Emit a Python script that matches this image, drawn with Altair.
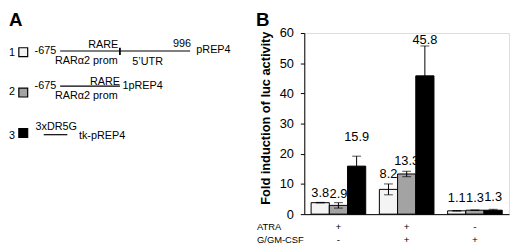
import altair as alt
import pandas as pd

# ---------------- data (panel B) ----------------
groups = ["c1", "c2", "c3"]
constructs = ["1", "2", "3"]
fold = [3.8, 2.9, 15.9, 8.2, 13.3, 45.8, 1.1, 1.3, 1.3]
err = [0.1, 0.9, 3.3, 1.8, 0.9, 9.9, 0.1, 0.05, 0.3]
label_at = [5.8, 5.4, 24.2, 12.0, 16.3, 56.5, 3.9, 3.9, 4.2]
atra = ["+", "+", "-"]
gmcsf = ["-", "+", "+"]
y_ticks = [0, 10, 20, 30, 40, 50, 60]
fills = ["#f4f4f4", "#a3a3a3", "#000000"]

FONT = "Liberation Sans"

rows = []
k = 0
for g in groups:
    for c in constructs:
        rows.append({"group": g, "construct": c, "fold": fold[k],
                     "lo": fold[k] - err[k], "hi": fold[k] + err[k],
                     "lab": label_at[k], "txt": f"{fold[k]:.1f}"})
        k += 1
dfB = pd.DataFrame(rows)
dfSign = pd.DataFrame({"group": groups, "atra": atra, "gm": gmcsf})

X = alt.X("group:N", sort=groups,
          scale=alt.Scale(paddingInner=0.2, paddingOuter=0.1),
          axis=alt.Axis(labels=False, ticks=False, title=None,
                        domainColor="black", domainWidth=1))
XO = alt.XOffset("construct:N", sort=constructs,
                 scale=alt.Scale(paddingInner=0, paddingOuter=0))
YS = alt.Scale(domain=[0, 60], nice=False)
YA = alt.Axis(values=y_ticks, grid=False, title=None, tickSize=4,
              labelPadding=7, labelFontSize=13, labelFont=FONT,
              labelColor="black", domainColor="black", tickColor="black")

base = alt.Chart(dfB)
bars = base.mark_bar(stroke="black", strokeWidth=1).encode(
    x=X, xOffset=XO,
    y=alt.Y("fold:Q", scale=YS, axis=YA),
    fill=alt.Fill("construct:N", scale=alt.Scale(domain=constructs, range=fills),
                  legend=None),
)
whisk = base.mark_rule(color="black", strokeWidth=1).encode(
    x=X, xOffset=XO, y=alt.Y("lo:Q", scale=YS, axis=YA), y2="hi:Q")
cap_hi = base.mark_tick(color="black", thickness=1, size=9).encode(
    x=X, xOffset=XO, y=alt.Y("hi:Q", scale=YS, axis=YA))
cap_lo = base.mark_tick(color="black", thickness=1, size=9).encode(
    x=X, xOffset=XO, y=alt.Y("lo:Q", scale=YS, axis=YA))
vals = base.mark_text(fontSize=13, font=FONT, baseline="alphabetic",
                      color="black").encode(
    x=X, xOffset=XO, y=alt.Y("lab:Q", scale=YS, axis=YA), text="txt:N")
sign1 = alt.Chart(dfSign).mark_text(fontSize=10, font=FONT,
                                    baseline="alphabetic").encode(
    x=X, y=alt.value(200.5), text="atra:N")
sign2 = alt.Chart(dfSign).mark_text(fontSize=10, font=FONT,
                                    baseline="alphabetic").encode(
    x=X, y=alt.value(213.5), text="gm:N")

panelB = alt.layer(bars, whisk, cap_hi, cap_lo, vals, sign1, sign2)

# ---------------- annotations (panel A + labels), pixel layout ----------------
PX = dict(scale=None, axis=None)
left_txt = pd.DataFrame([
    {"px": -300, "py": 23.3, "t": "1"},
    {"px": -274, "py": 21.3, "t": "-675"},
    {"px": -253.3, "py": 31.7, "t": "RARα2 prom"},
    {"px": -174.7, "py": 33, "t": "5’UTR"},
    {"px": -133.3, "py": 14.7, "t": "996"},
    {"px": -109.7, "py": 20.7, "t": "pREP4"},
    {"px": -300, "py": 63, "t": "2"},
    {"px": -274, "py": 57.3, "t": "-675"},
    {"px": -184.7, "py": 57.3, "t": "1pREP4"},
    {"px": -253.3, "py": 67.3, "t": "RARα2 prom"},
    {"px": -300, "py": 107.3, "t": "3"},
    {"px": -273, "py": 99, "t": "3xDR5G"},
    {"px": -229, "py": 107.3, "t": "tk-pREP4"},
])
right_txt = pd.DataFrame([
    {"px": -189, "py": 15.7, "t": "RARE"},
    {"px": -187.3, "py": 53, "t": "RARE"},
])
row_txt = pd.DataFrame([
    {"px": -48, "py": 200.5, "t": "ATRA"},
    {"px": -48, "py": 213.5, "t": "G/GM-CSF"},
])
big_txt = pd.DataFrame([
    {"px": -300, "py": -7.5, "t": "A"},
    {"px": -49, "py": -7.5, "t": "B"},
])
ytitle = pd.DataFrame([{"px": -38.5, "py": 86.5, "t": "Fold induction of luc activity"}])
lines = pd.DataFrame([
    {"x1": -248, "x2": -116, "y1": 18.3, "y2": 18.3},
    {"x1": -248, "x2": -187.3, "y1": 54, "y2": 54},
    {"x1": -264.7, "x2": -240.7, "y1": 103.3, "y2": 103.3},
])
vtick = pd.DataFrame([{"x1": -187.3, "x2": -187.3, "y1": 15, "y2": 22.3}])
boxes = pd.DataFrame([
    {"x1": -290, "x2": -281, "y1": 15, "y2": 24, "c": "1"},
    {"x1": -290, "x2": -281, "y1": 56, "y2": 65, "c": "2"},
    {"x1": -290, "x2": -281, "y1": 97, "y2": 106, "c": "3"},
])

def txt_layer(df, **kw):
    return alt.Chart(df).mark_text(font=FONT, color="black", **kw).encode(
        x=alt.X("px:Q", **PX), y=alt.Y("py:Q", **PX), text="t:N")

a1 = txt_layer(left_txt, fontSize=11, align="left", baseline="alphabetic")
a2 = txt_layer(right_txt, fontSize=11, align="right", baseline="alphabetic")
a3 = txt_layer(row_txt, fontSize=9.5, align="left", baseline="alphabetic")
a4 = txt_layer(big_txt, fontSize=19, fontWeight="bold", align="left",
               baseline="alphabetic")
a5 = txt_layer(ytitle, fontSize=13, fontWeight="bold", align="center",
               baseline="middle", angle=270)
l1 = alt.Chart(lines).mark_rule(color="black", strokeWidth=1.2).encode(
    x=alt.X("x1:Q", **PX), x2="x2:Q", y=alt.Y("y1:Q", **PX), y2="y2:Q")
l2 = alt.Chart(vtick).mark_rule(color="black", strokeWidth=1.8).encode(
    x=alt.X("x1:Q", **PX), x2="x2:Q", y=alt.Y("y1:Q", **PX), y2="y2:Q")
bx = alt.Chart(boxes).mark_rect(stroke="black", strokeWidth=1.2).encode(
    x=alt.X("x1:Q", **PX), x2="x2:Q", y=alt.Y("y1:Q", **PX), y2="y2:Q",
    fill=alt.Fill("c:N", scale=alt.Scale(domain=constructs, range=fills),
                  legend=None))

annot = alt.layer(a1, a2, a3, a4, a5, l1, l2, bx)

chart = alt.layer(panelB, annot).resolve_scale(
    x="independent", y="independent", fill="independent"
).properties(
    width=208, height=184,
    padding={"left": 301, "top": 23.5, "right": 3, "bottom": 32.5},
    autosize=alt.AutoSizeParams(type="none"),
).configure_view(stroke="#555", strokeWidth=1).configure(background="white")

chart.save("out.html", embed_options={"renderer": "svg", "actions": False})
